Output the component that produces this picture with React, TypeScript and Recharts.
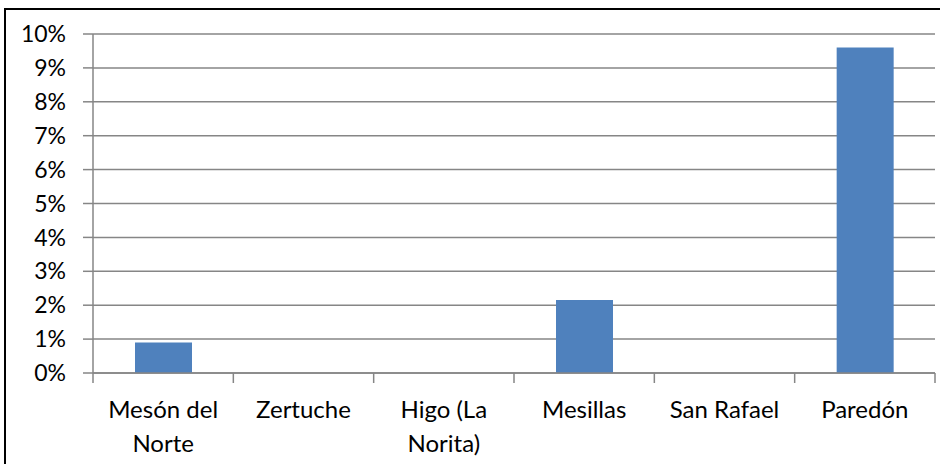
import { BarChart, Bar, XAxis, YAxis, CartesianGrid } from "recharts"

const categories = ["Mesón del Norte", "Zertuche", "Higo (La Norita)", "Mesillas", "San Rafael", "Paredón"]
const tickLabels = [["Mesón del", "Norte"], ["Zertuche"], ["Higo (La", "Norita)"], ["Mesillas"], ["San Rafael"], ["Paredón"]]
const values = [0.9, 0, 0, 2.15, 0, 9.6]
const yTicks = [0, 1, 2, 3, 4, 5, 6, 7, 8, 9, 10]
const edgeTicks = [0, 1, 2, 3, 4, 5, 6]

const data = categories.map((name, i) => ({ name, value: values[i], idx: i }))

const FONT = "Lato, 'DejaVu Sans', sans-serif"
const GRID = "#868686"

const CategoryTick = (props: any) => {
  const { x, y, index } = props
  const lines = tickLabels[index] ?? [props.payload.value]
  return (
    <text x={x} y={y} textAnchor="middle" fontFamily={FONT} fontSize={24} fill="#000">
      {lines.map((line, i) => (
        <tspan key={i} x={x} dy={i === 0 ? 33 : 34}>
          {line}
        </tspan>
      ))}
    </text>
  )
}

export default function App() {
  return (
    <div style={{ position: "absolute", left: 0, top: 0, width: 940, height: 464, background: "#fff", overflow: "hidden" }}>
      <div
        style={{
          position: "absolute",
          left: 4,
          top: 8,
          width: 960,
          height: 480,
          borderLeft: "2px solid #000",
          borderTop: "2px solid #000",
        }}
      />
      <div style={{ position: "absolute", left: 0, top: 0 }}>
        <BarChart width={940} height={464} data={data} margin={{ top: 34, right: 5, bottom: 0, left: 0 }}>
          <CartesianGrid xAxisId="b_cat" vertical={false} stroke={GRID} strokeWidth={1.5} />
          <XAxis
            xAxisId="a_edges"
            type="number"
            dataKey="idx"
            domain={[0, 6]}
            ticks={edgeTicks}
            height={12}
            tickSize={10}
            stroke={GRID}
            strokeWidth={1.5}
            tickFormatter={() => ""}
          />
          <XAxis
            xAxisId="b_cat"
            dataKey="name"
            height={79}
            axisLine={false}
            tickLine={false}
            tickSize={0}
            tickMargin={0}
            interval={0}
            tick={<CategoryTick />}
          />
          <YAxis
            width={93}
            domain={[0, 10]}
            ticks={yTicks}
            tickSize={10}
            tickMargin={17}
            stroke={GRID}
            strokeWidth={1.5}
            tickFormatter={(v: number) => `${v}%`}
            tick={{ fill: "#000", fontSize: 23, fontFamily: FONT }}
          />
          <Bar xAxisId="b_cat" dataKey="value" fill="#4f81bd" barSize={57} isAnimationActive={false} />
        </BarChart>
      </div>
    </div>
  )
}
